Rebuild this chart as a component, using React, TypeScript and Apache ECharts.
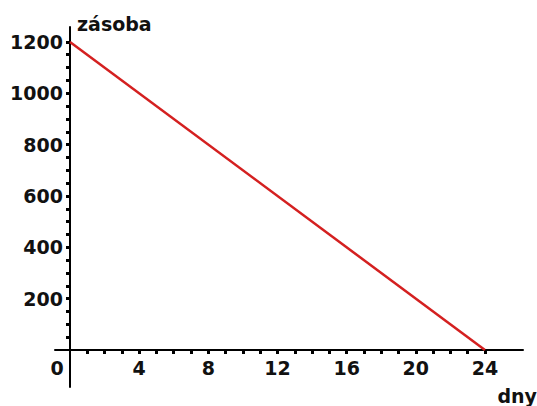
import React, { useEffect, useRef } from "react";
import * as echarts from "echarts";

const days = [0, 24];
const stock = [1200, 0];
const xLabelValues = [0, 4, 8, 12, 16, 20, 24];
const yLabelValues = [200, 400, 600, 800, 1000, 1200];
const xTickValues = [1, 2, 3, 4, 5, 6, 7, 8, 9, 10, 11, 12, 13, 14, 15, 16, 17, 18, 19, 20, 21, 22, 23, 24];
const yTickValues = [50, 100, 150, 200, 250, 300, 350, 400, 450, 500, 550, 600, 650, 700, 750, 800, 850, 900, 950, 1000, 1050, 1100, 1150, 1200];
const xName = "dny";
const yName = "zásoba";

const FONT = "'DejaVu Sans', Verdana, sans-serif";
const X_MAX = 26.2;
const Y_MAX = 1258;

export default function App() {
  const ref = useRef<HTMLDivElement>(null);
  useEffect(() => {
    if (!ref.current) return;
    const chart = echarts.init(ref.current, undefined, { renderer: "svg" });
    const data = days.map((d, i) => [d, stock[i]]);
    const textBase = { fontFamily: FONT, fontWeight: "bold", fontSize: 19, color: "#111" };
    chart.setOption({
      animation: false,
      backgroundColor: "#ffffff",
      grid: [
        // main plotting grid (origin at its bottom-left corner)
        { left: 70, right: 14, top: 27, bottom: 56, containLabel: false, outerBoundsMode: "none" },
        // extended grid only for axis lines crossing past the origin
        { left: 55, right: 14, top: 27, bottom: 19, containLabel: false, outerBoundsMode: "none" },
      ],
      xAxis: [
        {
          gridIndex: 0,
          type: "value",
          min: 0,
          max: X_MAX,
          name: xName,
          nameLocation: "end",
          nameGap: 14,
          nameTextStyle: {
            ...textBase,
            align: "right",
            verticalAlign: "top",
            padding: [36, 0, 0, 0],
          },
          axisLine: { show: false },
          axisTick: {
            show: true,
            customValues: xTickValues,
            length: 4,
            lineStyle: { color: "#000", width: 3 },
          },
          axisLabel: {
            customValues: xLabelValues,
            margin: 8,
            ...textBase,
            formatter: (v: number) => (v === 0 ? "{z|0}" : String(v)),
            rich: { z: { ...textBase, padding: [0, 26, 0, 0] } },
          },
          splitLine: { show: false },
        },
        {
          gridIndex: 1,
          type: "value",
          min: -0.87,
          max: X_MAX,
          axisLine: { onZero: true, lineStyle: { color: "#000", width: 2 } },
          axisTick: { show: false },
          axisLabel: { show: false },
          splitLine: { show: false },
        },
      ],
      yAxis: [
        {
          gridIndex: 0,
          type: "value",
          min: 0,
          max: Y_MAX,
          name: yName,
          nameLocation: "end",
          nameGap: 3,
          nameTextStyle: {
            ...textBase,
            align: "left",
            verticalAlign: "middle",
            padding: [0, 0, 0, 7],
          },
          axisLine: { show: false },
          axisTick: {
            show: true,
            customValues: yTickValues,
            length: 4,
            lineStyle: { color: "#000", width: 3 },
          },
          axisLabel: {
            customValues: yLabelValues,
            margin: 7,
            ...textBase,
            formatter: (v: number) => String(v),
          },
          splitLine: { show: false },
        },
        {
          gridIndex: 1,
          type: "value",
          min: -144,
          max: Y_MAX,
          axisLine: { show: true, onZero: true, lineStyle: { color: "#000", width: 2 } },
          axisTick: { show: false },
          axisLabel: { show: false },
          splitLine: { show: false },
        },
      ],
      series: [
        {
          type: "line",
          xAxisIndex: 0,
          yAxisIndex: 0,
          data,
          symbol: "none",
          z: 5,
          lineStyle: { color: "#d42020", width: 2.5 },
        },
      ],
    });
    return () => chart.dispose();
  }, []);
  return <div ref={ref} style={{ width: 537, height: 406, position: "absolute", left: 0, top: 0 }} />;
}
